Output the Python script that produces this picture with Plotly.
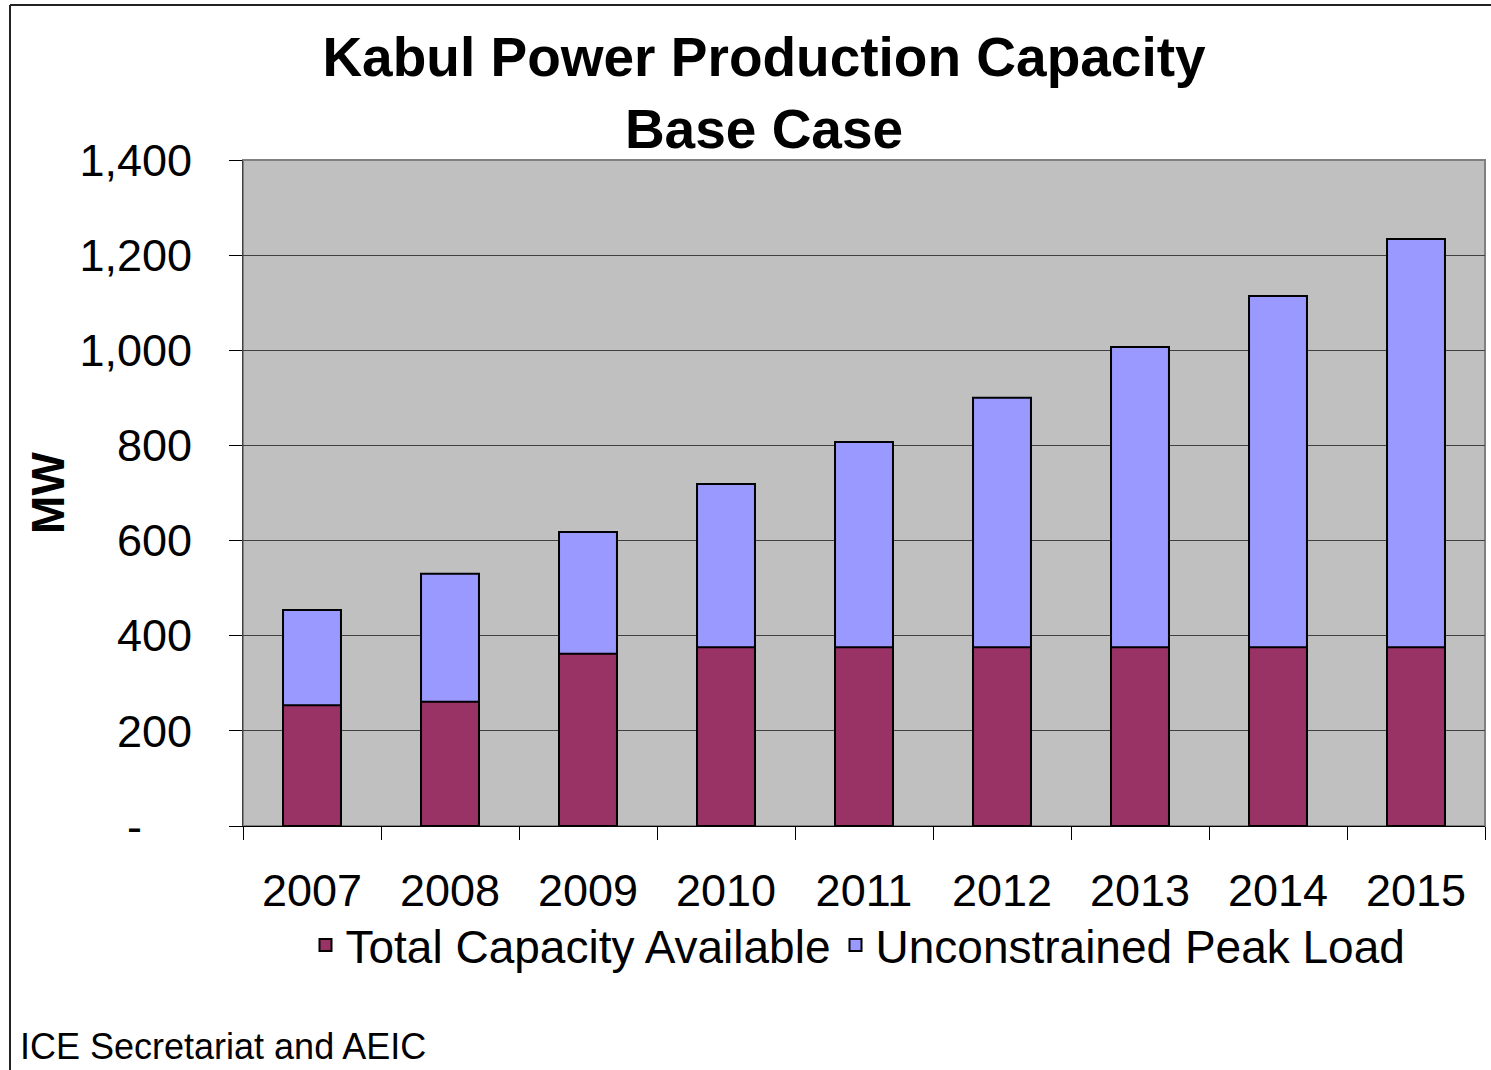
import plotly.graph_objects as go

years = ["2007", "2008", "2009", "2010", "2011", "2012", "2013", "2014", "2015"]
total_capacity = [254, 261, 362, 376, 376, 376, 376, 376, 376]
peak_load = [454, 530, 618, 719, 807, 900, 1007, 1114, 1234]
ytick_vals = [0, 200, 400, 600, 800, 1000, 1200, 1400]
ytick_text = ["-\u00a0\u00a0\u00a0\u00a0", "200", "400", "600", "800", "1,000", "1,200", "1,400"]

FONT = "Liberation Sans, Arial, sans-serif"

fig = go.Figure()
fig.add_trace(go.Bar(
    x=years, y=peak_load, name="Unconstrained Peak Load",
    marker=dict(color="#9999FF", line=dict(color="black", width=2)),
    width=0.42, legendrank=2,
))
fig.add_trace(go.Bar(
    x=years, y=total_capacity, name="Total Capacity Available",
    marker=dict(color="#993366", line=dict(color="black", width=2)),
    width=0.42, legendrank=1,
))

W, H = 1491, 1070
L, R, T, B = 243, 6, 160, 244
pw, ph = W - L - R, H - T - B

def px_x(p):
    return (p - L) / pw

def px_y(p):
    return (H - B - p) / ph

fig.update_layout(
    width=W, height=H,
    margin=dict(l=L, r=R, t=T, b=B, autoexpand=False),
    barmode="overlay",
    paper_bgcolor="white",
    plot_bgcolor="#C0C0C0",
    font=dict(family=FONT, color="black", size=45),
    title=dict(
        text="<b>Kabul Power Production Capacity<br>Base Case</b>",
        font=dict(family=FONT, size=55, color="black"),
        xref="container", x=764 / W, xanchor="center",
        yref="container", y=1 - 76 / H, yanchor="top",
    ),
    legend=dict(
        orientation="h",
        xref="paper", x=px_x(858), xanchor="center",
        yref="paper", y=px_y(945), yanchor="middle",
        font=dict(family=FONT, size=46, color="black"),
        bgcolor="rgba(0,0,0,0)",
    ),
    xaxis=dict(
        type="category",
        tickson="boundaries",
        ticks="outside", ticklen=13, tickcolor="black", tickwidth=1,
        showline=True, linecolor="black", linewidth=1,
        tickfont=dict(family=FONT, size=45, color="black"),
        ticklabelstandoff=25,
        showgrid=False, automargin=False,
    ),
    yaxis=dict(
        range=[0, 1400],
        tickvals=ytick_vals, ticktext=ytick_text,
        ticks="outside", ticklen=13, tickcolor="black", tickwidth=1,
        showline=True, linecolor="#404040", linewidth=1,
        showgrid=True, gridcolor="#404040", gridwidth=1,
        zeroline=False, automargin=False,
        tickfont=dict(family=FONT, size=45, color="black"),
        ticklabelstandoff=28,
        title=dict(text="<b>MW</b>", font=dict(family=FONT, size=46, color="black"), standoff=0),
    ),
    shapes=[
        dict(type="rect", xref="paper", yref="paper", x0=0, x1=1, y0=0, y1=1,
             line=dict(color="#808080", width=2), fillcolor="rgba(0,0,0,0)", layer="below"),
        dict(type="line", xref="paper", yref="paper", x0=px_x(10), x1=px_x(10),
             y0=px_y(5), y1=px_y(1080), line=dict(color="#222222", width=2)),
        dict(type="line", xref="paper", yref="paper", x0=px_x(10), x1=px_x(1500),
             y0=px_y(5), y1=px_y(5), line=dict(color="#222222", width=2)),
    ],
    annotations=[
        dict(text="ICE Secretariat and AEIC", xref="paper", yref="paper",
             x=px_x(18), y=px_y(1069), xanchor="left", yanchor="bottom",
             showarrow=False, font=dict(family=FONT, size=36, color="black")),
    ],
)

fig.write_html("out.html", config={"displayModeBar": False},
               post_script="document.body.style.margin='0';")
